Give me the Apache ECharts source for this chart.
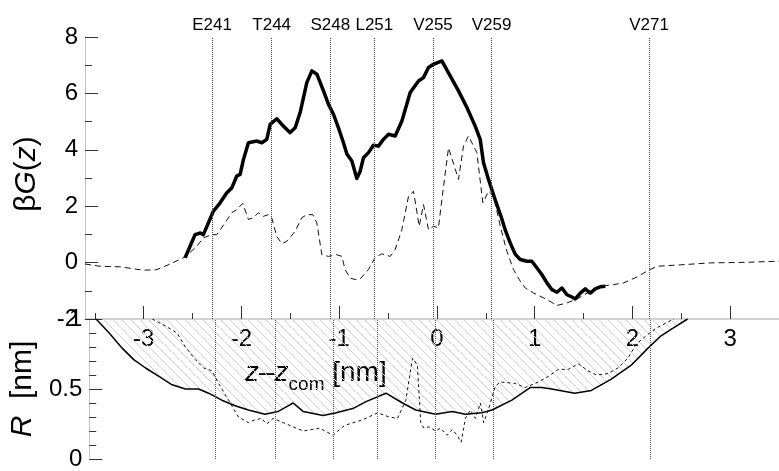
<!DOCTYPE html>
<html><head><meta charset="utf-8">
<script src="https://cdn.jsdelivr.net/npm/echarts@6/dist/echarts.min.js"></script>
<style>html,body{margin:0;padding:0;background:#fff}#c{width:779px;height:471px}</style>
</head><body><div id="c"></div>
<script>
// ---- data ----
const residueNames = ['E241','T244','S248','L251','V255','V259','V271'];
const residueZ = [-2.303,-1.693,-1.092,-0.639,-0.041,0.559,2.173];

const xMajorTicks = [-3,-2,-1,0,1,2,3];
const xMinorTicks = [-3.5,-2.5,-1.5,-0.5,0.5,1.5,2.5,3.5];

// beta G(z), thick solid curve
const gThickZ = [-2.576,-2.525,-2.474,-2.42,-2.389,-2.338,-2.287,-2.218,-2.149,-2.098,-2.047,-2.013,-1.979,-1.928,-1.842,-1.791,-1.740,-1.706,-1.638,-1.586,-1.535,-1.501,-1.450,-1.399,-1.331,-1.279,-1.228,-1.160,-1.109,-1.058,-1.007,-0.956,-0.921,-0.870,-0.819,-0.785,-0.751,-0.700,-0.649,-0.598,-0.547,-0.495,-0.427,-0.358,-0.273,-0.188,-0.137,-0.086,-0.035,0.051,0.136,0.221,0.307,0.392,0.443,0.477,0.528,0.580,0.614,0.660,0.700,0.750,0.801,0.853,0.921,0.972,1.024,1.075,1.126,1.177,1.228,1.279,1.331,1.382,1.416,1.467,1.518,1.569,1.620,1.671,1.723];
const gThickV = [0.17,0.58,0.99,1.05,0.99,1.41,1.82,2.12,2.48,2.65,3.07,3.13,3.66,4.25,4.31,4.25,4.37,4.90,5.10,4.90,4.72,4.61,4.78,5.32,6.38,6.80,6.68,6.09,5.61,5.26,4.78,4.25,3.85,3.60,2.98,3.24,3.72,3.90,4.16,4.13,4.37,4.55,4.49,5.02,6.03,6.44,6.56,6.92,7.03,7.15,6.62,6.09,5.50,4.84,4.37,3.54,2.95,2.40,2.05,1.60,1.15,0.70,0.30,0.11,0.05,0.05,-0.19,-0.43,-0.72,-0.96,-1.05,-0.90,-1.14,-1.22,-1.29,-1.08,-0.93,-1.08,-0.93,-0.86,-0.84];

// beta G(z), thin dashed curve
const gDashZ = [-3.6,-3.446,-3.241,-3.003,-2.866,-2.73,-2.576,-2.456,-2.389,-2.303,-2.252,-2.167,-2.098,-2.047,-1.986,-1.928,-1.877,-1.826,-1.775,-1.724,-1.690,-1.638,-1.586,-1.535,-1.450,-1.382,-1.331,-1.269,-1.228,-1.177,-1.109,-1.024,-0.972,-0.939,-0.887,-0.836,-0.785,-0.700,-0.632,-0.563,-0.478,-0.427,-0.358,-0.290,-0.239,-0.181,-0.137,-0.086,-0.035,0.016,0.051,0.119,0.221,0.272,0.323,0.409,0.470,0.528,0.579,0.648,0.716,0.784,0.853,0.904,0.989,1.126,1.228,1.331,1.433,1.569,1.671,1.808,1.910,2.047,2.166,2.25,2.49,2.80,3.17,3.50];
const gDashV = [-0.05,-0.13,-0.15,-0.27,-0.25,-0.05,0.20,0.58,0.88,0.99,0.99,1.41,1.77,1.88,2.10,1.53,1.59,1.77,1.64,1.70,1.59,0.93,0.67,0.76,1.11,1.59,1.70,1.70,1.41,0.28,0.22,0.28,0.22,-0.25,-0.55,-0.60,-0.58,-0.25,0.18,0.31,0.22,0.46,1.17,2.36,2.53,1.29,2.06,1.17,1.29,1.23,2.24,4.07,2.95,4.13,4.49,3.90,2.12,2.53,2.36,1.30,0.40,-0.25,-0.66,-0.90,-1.08,-1.31,-1.52,-1.43,-1.29,-1.02,-0.84,-0.78,-0.72,-0.51,-0.27,-0.13,-0.08,-0.01,0.01,0.05];

// R(z), solid curve (hatched above)
const rSolidZ = [-3.53,-3.395,-3.259,-3.142,-3.020,-2.883,-2.747,-2.610,-2.474,-2.372,-2.235,-2.098,-1.962,-1.791,-1.655,-1.553,-1.502,-1.399,-1.331,-1.194,-1.058,-0.887,-0.751,-0.546,-0.376,-0.239,-0.035,0.136,0.272,0.443,0.546,0.750,0.938,1.057,1.160,1.398,1.569,1.774,1.979,2.149,2.286,2.422,2.559];
const rSolidV = [1.00,0.90,0.79,0.71,0.65,0.59,0.53,0.50,0.50,0.47,0.42,0.38,0.35,0.32,0.34,0.38,0.40,0.34,0.33,0.31,0.33,0.36,0.41,0.47,0.40,0.35,0.32,0.34,0.32,0.33,0.35,0.42,0.51,0.51,0.50,0.47,0.49,0.57,0.67,0.79,0.88,0.94,1.00];

// R(z), dashed curve
const rDashZ = [-2.952,-2.815,-2.696,-2.610,-2.508,-2.423,-2.338,-2.269,-2.167,-2.064,-1.962,-1.894,-1.826,-1.775,-1.706,-1.604,-1.502,-1.399,-1.228,-1.092,-0.972,-0.785,-0.632,-0.512,-0.427,-0.341,-0.273,-0.222,-0.188,-0.154,-0.102,-0.035,0.016,0.085,0.136,0.187,0.228,0.272,0.323,0.375,0.426,0.46,0.512,0.58,0.631,0.784,0.886,1.023,1.126,1.228,1.331,1.433,1.535,1.620,1.740,1.842,1.945,2.030,2.149,2.252,2.388,2.42];
const rDashV = [1.00,0.95,0.90,0.80,0.71,0.65,0.63,0.54,0.42,0.30,0.26,0.28,0.29,0.25,0.29,0.26,0.23,0.20,0.22,0.17,0.24,0.28,0.33,0.30,0.29,0.42,0.72,0.67,0.26,0.22,0.23,0.20,0.22,0.17,0.21,0.17,0.12,0.29,0.35,0.29,0.40,0.26,0.36,0.52,0.55,0.54,0.51,0.55,0.59,0.64,0.64,0.68,0.63,0.60,0.61,0.65,0.72,0.82,0.89,0.94,0.99,1.00];

// ---- chart ----
const FONT = 'Liberation Sans, Arial, Helvetica, sans-serif';
const zip = (a, b) => a.map((v, i) => [v, b[i]]);

function hatchPattern() {
  const s = 9, c = document.createElement('canvas');
  c.width = s; c.height = s;
  const g = c.getContext('2d');
  g.strokeStyle = '#d2d2d2'; g.lineWidth = 1;
  g.beginPath();
  g.moveTo(-1, -1); g.lineTo(s + 1, s + 1);
  g.moveTo(s - 1, -1); g.lineTo(s + 1, 1);
  g.moveTo(-1, s - 1); g.lineTo(1, s + 1);
  g.stroke();
  return c;
}

const tickColor = '#333';
const axisLineColor = '#c4c4c4';
const X_MIN = -3.6, X_MAX = 3.5;
const TICK_FS = 24, TITLE_FS = 30;

const markTop = {
  silent: true, symbol: 'none', animation: false,
  lineStyle: { type: 'dotted', color: '#444', width: 1 },
  label: { show: true, position: 'end', distance: 3, formatter: p => p.name, fontSize: 17, color: '#000', fontFamily: FONT },
  data: residueZ.map((z, i) => ({ name: residueNames[i], xAxis: z }))
};
const markBottom = {
  silent: true, symbol: 'none', animation: false,
  lineStyle: { type: 'dotted', color: '#555', width: 1 },
  label: { show: false },
  data: residueZ.map((z, i) => ({ name: residueNames[i], xAxis: z }))
};

const titleRich = {
  n: { fontSize: TITLE_FS, fontFamily: FONT, color: '#000' },
  i: { fontSize: TITLE_FS, fontStyle: 'italic', fontFamily: FONT, color: '#000' }
};

const chart = echarts.init(document.getElementById('c'), null, { renderer: 'canvas' });
chart.setOption({
  animation: false,
  backgroundColor: '#fff',
  textStyle: { fontFamily: FONT },
  grid: [
    { left: 85, top: 37, width: 694, height: 282 },
    { left: 85, top: 319, width: 694, height: 140 }
  ],
  xAxis: [
    { type: 'value', gridIndex: 0, min: X_MIN, max: X_MAX, position: 'bottom',
      axisLine: { show: true, onZero: false, lineStyle: { color: axisLineColor, width: 1.5 } },
      axisTick: { show: true, inside: true, length: 13, customValues: xMajorTicks, lineStyle: { color: tickColor, width: 1 } },
      axisLabel: { show: true, inside: false, margin: 8, customValues: xMajorTicks, fontSize: TICK_FS, color: '#000', fontFamily: FONT },
      splitLine: { show: false } },
    { type: 'value', gridIndex: 1, min: X_MIN, max: X_MAX, show: false },
    { type: 'value', gridIndex: 0, min: X_MIN, max: X_MAX, position: 'bottom',
      axisLine: { show: false, onZero: false },
      axisTick: { show: true, inside: true, length: 6, customValues: xMinorTicks, lineStyle: { color: tickColor, width: 1 } },
      axisLabel: { show: false, customValues: xMinorTicks },
      splitLine: { show: false } }
  ],
  yAxis: [
    { type: 'value', gridIndex: 0, min: -2, max: 8, interval: 2,
      name: '{n|β}{i|G}{n|(}{i|z}{n|)}', nameLocation: 'middle', nameGap: 43,
      nameTextStyle: { fontSize: TITLE_FS, color: '#000', fontFamily: FONT, rich: titleRich, padding: [0, 0, 0, 8] },
      axisLine: { show: true, onZero: false, lineStyle: { color: axisLineColor, width: 1 } },
      axisTick: { show: true, inside: true, length: 13, lineStyle: { color: tickColor } },
      minorTick: { show: true, splitNumber: 2, length: 7, lineStyle: { color: tickColor } },
      axisLabel: { fontSize: TICK_FS, margin: 7, color: '#000', fontFamily: FONT },
      splitLine: { show: false } },
    { type: 'value', gridIndex: 1, min: 0, max: 1, interval: 0.5,
      name: '{i|R}{n|  [nm]}', nameLocation: 'middle', nameGap: 43,
      nameTextStyle: { fontSize: TITLE_FS, color: '#000', fontFamily: FONT, rich: titleRich },
      axisLine: { show: true, onZero: false, lineStyle: { color: axisLineColor, width: 1 } },
      axisTick: { show: true, inside: true, length: 13, lineStyle: { color: tickColor } },
      minorTick: { show: true, splitNumber: 5, length: 7, lineStyle: { color: tickColor } },
      axisLabel: { fontSize: TICK_FS, margin: 7, color: '#000', fontFamily: FONT },
      splitLine: { show: false } }
  ],
  graphic: [
    { type: 'text', left: 245, top: 359, silent: true,
      style: {
        text: '{i|z}{n|–}{i|z}{s|com}{n| [nm]}',
        rich: {
          i: { fontSize: 28, fontStyle: 'italic', fontFamily: FONT, fill: '#000', verticalAlign: 'bottom', padding: [0, 0, 7, 0] },
          n: { fontSize: 28, fontFamily: FONT, fill: '#000', verticalAlign: 'bottom', padding: [0, 0, 7, 0] },
          s: { fontSize: 19, fontFamily: FONT, fill: '#000', verticalAlign: 'bottom' }
        }
      } }
  ],
  series: [
    { type: 'line', name: 'R', xAxisIndex: 1, yAxisIndex: 1, data: zip(rSolidZ, rSolidV),
      symbol: 'none', lineStyle: { color: '#000', width: 1.5 },
      areaStyle: { origin: 'end', color: { image: hatchPattern(), repeat: 'repeat' }, opacity: 1 },
      markLine: markBottom, z: 2 },
    { type: 'line', name: 'R dashed', xAxisIndex: 1, yAxisIndex: 1, data: zip(rDashZ, rDashV),
      symbol: 'none', lineStyle: { color: '#111', width: 1, type: [3, 3] }, z: 3 },
    { type: 'line', name: 'G dashed', xAxisIndex: 0, yAxisIndex: 0, data: zip(gDashZ, gDashV),
      symbol: 'none', lineStyle: { color: '#111', width: 1, type: [6, 4] },
      markLine: markTop, z: 3 },
    { type: 'line', name: 'G', xAxisIndex: 0, yAxisIndex: 0, data: zip(gThickZ, gThickV),
      symbol: 'none', lineStyle: { color: '#000', width: 3.5, join: 'round' }, z: 4 }
  ]
});
</script></body></html>
